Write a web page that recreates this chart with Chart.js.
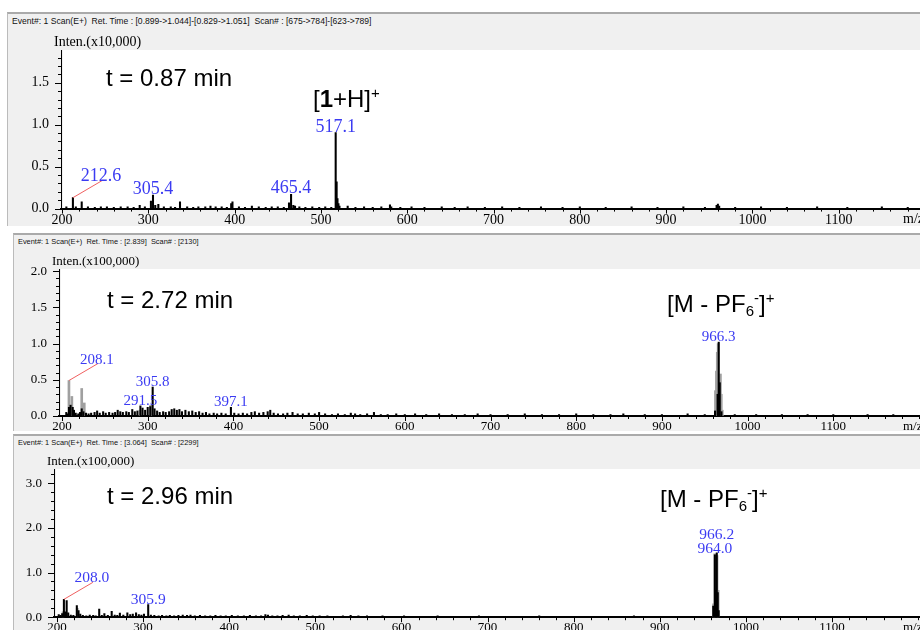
<!DOCTYPE html>
<html>
<head>
<meta charset="utf-8">
<script src="https://cdn.jsdelivr.net/npm/chart.js@4.4.1/dist/chart.umd.min.js"></script>
<style>
body { margin: 0; width: 920px; height: 630px; overflow: hidden; background: #fff; position: relative; font-family: "Liberation Sans", Arial, sans-serif; }
.panel { position: absolute; right: -30px; background: #f0f0f0; border-top: 2px solid #aaa; border-left: 1px solid #bbb; }
.head { position: absolute; left: 4px; top: 1px; white-space: pre; color: #111; }
canvas { position: absolute; left: 0; }
</style>
</head>
<body>

<div class="panel" style="left:7px; top:12px; height:212px"><div class="head" style="font-size:8.6px; top:2px">Event#: 1 Scan(E+)  Ret. Time : [0.899-&gt;1.044]-[0.829-&gt;1.051]  Scan# : [675-&gt;784]-[623-&gt;789]</div></div>
<div class="panel" style="left:13px; top:233px; height:196px"><div class="head" style="font-size:7.4px; top:2px">Event#: 1 Scan(E+)  Ret. Time : [2.839]  Scan# : [2130]</div></div>
<div class="panel" style="left:13px; top:434px; height:200px"><div class="head" style="font-size:7.4px; top:2px">Event#: 1 Scan(E+)  Ret. Time : [3.064]  Scan# : [2299]</div></div>

<canvas id="c1" width="940" height="216" style="top:13px"></canvas>
<canvas id="c2" width="940" height="202" style="top:234px"></canvas>
<canvas id="c3" width="940" height="202" style="top:435px"></canvas>

<script>
// ---- panel 1 : t = 0.87 min, intensity x10,000
var mz1 = [205, 212.6, 216, 222.8, 230, 238, 245, 252, 260, 268, 276, 283, 290, 296, 303, 305.4, 308, 311.6, 318, 326,
           331, 336.7, 345, 352, 358, 366, 372, 378, 385, 391, 396, 397.5, 405, 412, 420, 428, 436, 443, 450, 457,
           463, 465.4, 468, 470, 475, 482, 490, 498, 505, 512, 517.1, 518.2, 519.2, 520.3, 521.5, 531, 540, 550, 560, 570,
           580, 581.5, 592, 605, 620, 640, 655, 670, 690, 710, 730, 755, 780, 800, 830, 860, 890, 920, 945, 958.5,
           960, 961.5, 980, 1010, 1040, 1075, 1110, 1150, 1180]
var int1 = [0.02, 0.13, 0.02, 0.08, 0.02, 0.015, 0.02, 0.02, 0.015, 0.02, 0.02, 0.015, 0.04, 0.02, 0.09, 0.16, 0.04, 0.05, 0.02, 0.02,
            0.015, 0.08, 0.02, 0.015, 0.02, 0.02, 0.03, 0.02, 0.02, 0.015, 0.06, 0.08, 0.02, 0.015, 0.03, 0.02, 0.015, 0.02, 0.02, 0.015,
            0.07, 0.17, 0.04, 0.03, 0.02, 0.015, 0.02, 0.015, 0.02, 0.015, 0.905, 0.32, 0.12, 0.06, 0.03, 0.03, 0.015, 0.02, 0.015, 0.02,
            0.045, 0.02, 0.015, 0.02, 0.015, 0.02, 0.015, 0.02, 0.015, 0.02, 0.015, 0.02, 0.015, 0.02, 0.015, 0.02, 0.015, 0.02, 0.015, 0.04,
            0.055, 0.03, 0.015, 0.02, 0.015, 0.02, 0.015, 0.02, 0.015]
var mz1g = []
var int1g = []
var labels1 = [212.6, 305.4, 465.4, 517.1]
var callouts1 = [212.6]

// ---- panel 2 : t = 2.72 min, intensity x100,000
var mz2 = [205, 206.5, 208.1, 210, 212.5, 214, 216, 219, 221, 223, 225, 228, 231, 234, 238, 241, 244, 248, 251, 255,
           259, 262, 265, 268, 271, 275, 278, 282, 285, 288, 291.5, 294, 297, 300, 303, 305.8, 308, 311, 314, 318,
           321, 325, 328, 331, 334, 337, 340, 344, 348, 352, 356, 360, 364, 368, 372, 377, 381, 386, 391, 397.1,
           401, 406, 411, 416, 421, 425, 430, 435, 440, 443, 447, 452, 458, 463, 469, 475, 481, 488, 495, 500,
           507, 515, 522, 530, 537, 542, 548, 556, 564, 572, 580, 590, 600, 612, 625, 640, 655, 670, 685, 700,
           720, 740, 760, 780, 800, 820, 840, 855, 880, 900, 930, 950, 962, 965, 966.3, 967.5, 969.5, 985, 1010, 1040,
           1070, 1100, 1140, 1170]
var int2 = [0.05, 0.03, 0.12, 0.15, 0.12, 0.08, 0.04, 0.03, 0.05, 0.1, 0.06, 0.04, 0.03, 0.04, 0.05, 0.07, 0.04, 0.06, 0.04, 0.05,
            0.04, 0.05, 0.08, 0.06, 0.05, 0.06, 0.05, 0.09, 0.06, 0.07, 0.14, 0.11, 0.08, 0.12, 0.13, 0.40, 0.1, 0.07, 0.05, 0.06,
            0.05, 0.06, 0.09, 0.1, 0.08, 0.09, 0.06, 0.08, 0.06, 0.07, 0.05, 0.06, 0.04, 0.05, 0.03, 0.04, 0.03, 0.04, 0.03, 0.12,
            0.04, 0.03, 0.04, 0.03, 0.05, 0.06, 0.04, 0.05, 0.06, 0.08, 0.04, 0.03, 0.03, 0.04, 0.05, 0.03, 0.03, 0.04, 0.03, 0.05,
            0.03, 0.02, 0.03, 0.02, 0.04, 0.03, 0.02, 0.03, 0.05, 0.02, 0.02, 0.03, 0.02, 0.03, 0.02, 0.03, 0.02, 0.02, 0.03, 0.02,
            0.02, 0.03, 0.02, 0.02, 0.03, 0.02, 0.02, 0.03, 0.02, 0.02, 0.03, 0.02, 0.07, 0.3, 1.02, 0.46, 0.06, 0.02, 0.02, 0.02,
            0.02, 0.02, 0.02, 0.02]
var mz2g = [208.1, 211.5, 223, 226, 291, 303.5, 962.5, 963.6, 964.6, 965.6, 968.3, 969.3, 970.5]
var int2g = [0.49, 0.27, 0.38, 0.18, 0.08, 0.15, 0.35, 0.62, 0.88, 1.0, 0.58, 0.3, 0.08]
var labels2 = [208.1, 291.5, 305.8, 397.1, 966.3]
var callouts2 = [208.1]

// ---- panel 3 : t = 2.96 min, intensity x100,000
var mz3 = [202, 204, 206, 208.0, 209.5, 211.2, 213, 216, 219, 223, 225, 227, 230, 234, 238, 242, 245, 249, 252, 255,
           259, 263.5, 267, 270, 273, 277, 281.7, 285, 288, 291.8, 295, 298, 301, 305.9, 309, 313, 318, 322, 327, 331,
           336, 341, 346, 351, 355, 360, 366, 372, 378, 384, 390, 396, 403, 410, 417, 424, 431, 437, 442, 445,
           450, 456, 462, 469, 475, 482, 490, 497, 505, 514, 523, 532, 541, 550, 560, 568, 578, 590, 603, 615,
           628, 642, 655, 670, 690, 705, 720, 740, 760, 780, 800, 820, 845, 870, 895, 920, 945, 962.1, 964.0, 965.2,
           966.2, 967.3, 968.4, 990, 1020, 1060, 1100, 1140, 1180]
var int3 = [0.06, 0.04, 0.08, 0.40, 0.12, 0.37, 0.1, 0.05, 0.04, 0.26, 0.15, 0.07, 0.04, 0.03, 0.05, 0.04, 0.03, 0.18, 0.04, 0.08,
            0.04, 0.13, 0.05, 0.04, 0.09, 0.05, 0.1, 0.06, 0.07, 0.1, 0.06, 0.05, 0.07, 0.28, 0.05, 0.04, 0.03, 0.04, 0.03, 0.04,
            0.03, 0.04, 0.05, 0.04, 0.05, 0.03, 0.04, 0.03, 0.03, 0.04, 0.03, 0.03, 0.04, 0.03, 0.03, 0.04, 0.03, 0.03, 0.06, 0.05,
            0.03, 0.03, 0.04, 0.05, 0.03, 0.03, 0.04, 0.03, 0.03, 0.03, 0.02, 0.03, 0.04, 0.03, 0.03, 0.02, 0.03, 0.02, 0.03, 0.02,
            0.02, 0.03, 0.02, 0.02, 0.03, 0.02, 0.02, 0.02, 0.03, 0.02, 0.02, 0.02, 0.02, 0.03, 0.02, 0.02, 0.02, 0.25, 1.40, 0.6,
            1.44, 0.55, 0.15, 0.02, 0.02, 0.02, 0.02, 0.02, 0.02]
var mz3g = [207, 223.5, 962.5, 963.8, 966.5, 967.8]
var int3g = [0.12, 0.2, 0.3, 1.42, 1.38, 0.6]
var labels3 = [208.0, 305.9, 964.0, 966.2]
var callouts3 = [208.0]

var SERIF = '"Liberation Serif", "Times New Roman", serif'
var SANS = '"Liberation Sans", Arial, Helvetica, sans-serif'

function points(xs, ys) {
    var out = []
    for (var i = 0; i < xs.length; i++) out.push({ x: xs[i], y: ys[i] })
    return out
}

function peakHeight(m, sets) {
    var h = 0
    sets.forEach(function (s) {
        for (var i = 0; i < s[0].length; i++) {
            if (Math.abs(s[0][i] - m) < 0.6 && s[1][i] > h) h = s[1][i]
        }
    })
    return h
}

function drawRich(ctx, x, y, parts) {
    ctx.textAlign = 'left'
    ctx.textBaseline = 'alphabetic'
    ctx.fillStyle = '#000'
    parts.forEach(function (p) {
        var size = (p.sup || p.sub) ? 15 : 24
        ctx.font = (p.bold ? 'bold ' : '') + size + 'px ' + SANS
        var dy = p.sup ? -9 : (p.sub ? 4 : 0)
        ctx.fillText(p.t, x, y + dy)
        x += ctx.measureText(p.t).width
    })
}

function makePanel(id, cfg) {
    var annotate = {
        id: 'annotate',
        beforeDraw: function (chart) {
            var a = chart.chartArea, ctx = chart.ctx
            ctx.save()
            ctx.fillStyle = '#fff'
            ctx.fillRect(a.left + 2, a.top, a.right - a.left, a.bottom - a.top)
            ctx.restore()
        },
        afterDraw: function (chart) {
            var ctx = chart.ctx, a = chart.chartArea
            var xs = chart.scales.x, ys = chart.scales.y
            ctx.save()

            // tick marks, long for labelled ticks
            ctx.strokeStyle = '#000'
            ctx.lineWidth = 1
            ctx.beginPath()
            ys.ticks.forEach(function (t) {
                var py = Math.round(ys.getPixelForValue(t.value)) + 0.5
                var len = t.label ? 6 : 3
                ctx.moveTo(a.left - len, py)
                ctx.lineTo(a.left, py)
            })
            xs.ticks.forEach(function (t) {
                var px = Math.round(xs.getPixelForValue(t.value)) + 0.5
                var len = t.label ? 5 : 3
                ctx.moveTo(px, a.bottom)
                ctx.lineTo(px, a.bottom + len)
            })
            ctx.stroke()

            // axis captions
            ctx.fillStyle = '#000'
            ctx.font = cfg.axisFont + 'px ' + SERIF
            ctx.textAlign = 'left'
            ctx.textBaseline = 'alphabetic'
            ctx.fillText(cfg.inten, a.left - 7, a.top - 4)
            ctx.textBaseline = 'top'
            ctx.fillText('m/z', a.right - 22, a.bottom + 4)

            // peak labels
            ctx.font = cfg.labelFont + 'px ' + SERIF
            ctx.textAlign = 'center'
            ctx.textBaseline = 'alphabetic'
            var boxes = []
            cfg.labels.forEach(function (m) {
                var h = peakHeight(m, [[cfg.mz, cfg.ints], [cfg.mzg, cfg.intsg]])
                var px = xs.getPixelForValue(m)
                var py = ys.getPixelForValue(h) - 1
                if (cfg.callouts.indexOf(m) >= 0) {
                    ctx.strokeStyle = '#f06060'
                    ctx.beginPath()
                    ctx.moveTo(px, py + 1)
                    ctx.lineTo(px + 29, py - 16)
                    ctx.stroke()
                    px += 28
                    py -= 16
                }
                var txt = m.toFixed(1)
                var w = ctx.measureText(txt).width
                var box = { l: px - w / 2, r: px + w / 2, t: py - 13, b: py }
                boxes.forEach(function (b) {
                    if (box.l < b.r && box.r > b.l && box.t < b.b && box.b > b.t) {
                        var s = box.b - b.t + 1
                        box.t -= s; box.b -= s; py -= s
                    }
                })
                boxes.push(box)
                ctx.fillStyle = '#3b3bf2'
                ctx.fillText(txt, px, py)
            })

            // retention time and ion annotations
            drawRich(ctx, cfg.time[0], cfg.time[1], [{ t: cfg.time[2] }])
            drawRich(ctx, cfg.ion[0], cfg.ion[1], cfg.ion[2])
            ctx.restore()
        }
    }

    return new Chart(document.getElementById(id), {
        type: 'bar',
        data: {
            datasets: [{
                data: points(cfg.mz, cfg.ints),
                backgroundColor: '#000',
                barThickness: 1.4,
                grouped: false,
                order: 1
            }, {
                data: points(cfg.mzg, cfg.intsg),
                backgroundColor: '#a0a0a0',
                barThickness: 2,
                grouped: false,
                order: 2
            }]
        },
        options: {
            responsive: false,
            animation: false,
            events: [],
            layout: { padding: { top: cfg.padTop, right: 15, left: 0, bottom: 0 } },
            plugins: { legend: { display: false }, tooltip: { enabled: false } },
            scales: {
                x: {
                    type: 'linear',
                    min: cfg.xMin,
                    max: cfg.xMax,
                    offset: false,
                    grid: { display: false, drawTicks: false, offset: false },
                    border: { display: true, color: '#000', width: 2 },
                    ticks: {
                        stepSize: 20,
                        includeBounds: false,
                        autoSkip: false,
                        maxRotation: 0,
                        padding: 3,
                        color: '#000',
                        font: { family: SERIF, size: cfg.axisFont },
                        callback: function (v) { return (v % 100 === 0 && v <= 1100) ? String(v) : '' }
                    },
                    afterFit: function (s) { s.height = cfg.xHeight }
                },
                y: {
                    min: 0,
                    max: cfg.yMax,
                    grid: { display: false, drawTicks: false },
                    border: { display: true, color: '#000', width: 1 },
                    ticks: {
                        stepSize: cfg.yStep,
                        includeBounds: false,
                        autoSkip: false,
                        padding: 12,
                        color: '#000',
                        font: { family: SERIF, size: cfg.axisFont },
                        callback: function (v) {
                            var k = v / cfg.yMajor
                            return Math.abs(k - Math.round(k)) < 1e-6 ? v.toFixed(1) : ''
                        }
                    },
                    afterFit: function (s) { s.width = cfg.yWidth }
                }
            }
        },
        plugins: [annotate]
    })
}

makePanel('c1', {
    mz: mz1, ints: int1, mzg: mz1g, intsg: int1g, labels: labels1, callouts: callouts1,
    xMin: 198.8, xMax: 1200, yMax: 1.89, yStep: 0.1, yMajor: 0.5,
    yWidth: 61, xHeight: 20, padTop: 37, axisFont: 14, labelFont: 18,
    inten: 'Inten.(x10,000)',
    time: [106, 73, 't = 0.87 min'],
    ion: [313, 94, [{ t: '[' }, { t: '1', bold: true }, { t: '+H]' }, { t: '+', sup: true }]]
})

makePanel('c2', {
    mz: mz2, ints: int2, mzg: mz2g, intsg: int2g, labels: labels2, callouts: callouts2,
    xMin: 196.5, xMax: 1207, yMax: 2.03, yStep: 0.1, yMajor: 0.5,
    yWidth: 59, xHeight: 20, padTop: 35, axisFont: 13, labelFont: 15,
    inten: 'Inten.(x100,000)',
    time: [107, 74, 't = 2.72 min'],
    ion: [667, 78, [{ t: '[M - PF' }, { t: '6', sub: true }, { t: '-', sup: true }, { t: ']' }, { t: '+', sup: true }]]
})

makePanel('c3', {
    mz: mz3, ints: int3, mzg: mz3g, intsg: int3g, labels: labels3, callouts: callouts3,
    xMin: 196.5, xMax: 1208, yMax: 3.32, yStep: 0.2, yMajor: 1.0,
    yWidth: 54, xHeight: 14, padTop: 34, axisFont: 13, labelFont: 15.5,
    inten: 'Inten.(x100,000)',
    time: [107, 69, 't = 2.96 min'],
    ion: [660, 72, [{ t: '[M - PF' }, { t: '6', sub: true }, { t: '-', sup: true }, { t: ']' }, { t: '+', sup: true }]]
})
</script>
</body>
</html>
